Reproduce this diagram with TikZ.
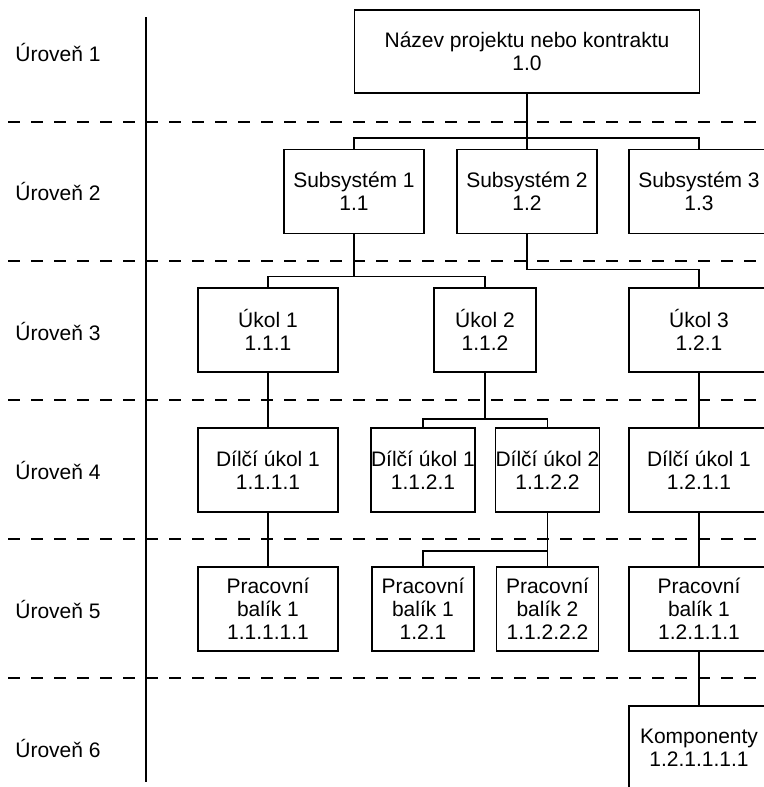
\documentclass[tikz,border=0pt]{standalone}
\usepackage{fontspec}
\setmainfont{Liberation Sans}

\begin{document}
\begin{tikzpicture}[x=0.5pt, y=-0.5pt,
  every node/.style={font=\fontsize{10.5}{11.5}\selectfont},
  wide/.style={rectangle, draw, line width=0.9pt, minimum width=70pt, minimum height=42pt, inner sep=0pt, align=center},
  narrow/.style={wide, minimum width=51pt},
  level/.style={anchor=west, inner sep=0pt},
  sep/.style={dash pattern=on 6pt off 5.5pt, line width=0.6pt},
  link/.style={line width=0.9pt}]
  \useasboundingbox (0,0) rectangle (764,787);
  \draw[line width=0.6pt] (146,17) -- (146,782);
  \draw[sep] (8,122) -- (764,122);
  \draw[sep] (8,261) -- (764,261);
  \draw[sep] (8,400) -- (764,400);
  \draw[sep] (8,539) -- (764,539);
  \draw[sep] (8,678) -- (764,678);
  \node[level] (L1) at (15,52) {Úroveň 1};
  \node[level] (L2) at (15,191) {Úroveň 2};
  \node[level] (L3) at (15,331) {Úroveň 3};
  \node[level] (L4) at (15,470) {Úroveň 4};
  \node[level] (L5) at (15,609) {Úroveň 5};
  \node[level] (L6) at (15,748) {Úroveň 6};
  \node[wide, minimum width=172.5pt, minimum height=41.5pt] (P) at (527,51.5) {Název projektu nebo kontraktu\\1.0};
  \node[wide] (S1) at (354,191.5) {Subsystém 1\\1.1};
  \node[wide] (S2) at (527,191.5) {Subsystém 2\\1.2};
  \node[wide] (S3) at (699,191.5) {Subsystém 3\\1.3};
  \node[wide] (U1) at (268,330) {Úkol 1\\1.1.1};
  \node[narrow] (U2) at (485,330) {Úkol 2\\1.1.2};
  \node[wide] (U3) at (699,330) {Úkol 3\\1.2.1};
  \node[wide] (D1) at (268,470) {Dílčí úkol 1\\1.1.1.1};
  \node[narrow] (D2) at (423,470) {Dílčí úkol 1\\1.1.2.1};
  \node[narrow] (D3) at (547.5,470) {Dílčí úkol 2\\1.1.2.2};
  \node[wide] (D4) at (699,470) {Dílčí úkol 1\\1.2.1.1};
  \node[wide] (W1) at (268,609) {Pracovní\\balík 1\\1.1.1.1.1};
  \node[narrow] (W2) at (423,609) {Pracovní\\balík 1\\1.2.1};
  \node[narrow] (W3) at (547.5,609) {Pracovní\\balík 2\\1.1.2.2.2};
  \node[wide] (W4) at (699,609) {Pracovní\\balík 1\\1.2.1.1.1};
  \node[wide] (K) at (699,748) {Komponenty\\1.2.1.1.1.1};
  \draw[link] (P) -- (S2);
  \draw[link] (P.south) -- ++(0,44) -| (S1.north);
  \draw[link] (P.south) -- ++(0,44) -| (S3.north);
  \draw[link] (S1.south) -- ++(0,42) -| (U1.north);
  \draw[link] (S1.south) -- ++(0,42) -| (U2.north);
  \draw[link] (S2.south) -- ++(0,35) -| (U3.north);
  \draw[link] (U1) -- (D1);
  \draw[link] (U2.south) -- ++(0,46) -| (D2.north);
  \draw[link] (U2.south) -- ++(0,46) -| (D3.north);
  \draw[link] (U3) -- (D4);
  \draw[link] (D1) -- (W1);
  \draw[link] (D3.south) -- ++(0,38) -| (W2.north);
  \draw[link] (D3) -- (W3);
  \draw[link] (D4) -- (W4);
  \draw[link] (W4) -- (K);
\end{tikzpicture}
\end{document}
